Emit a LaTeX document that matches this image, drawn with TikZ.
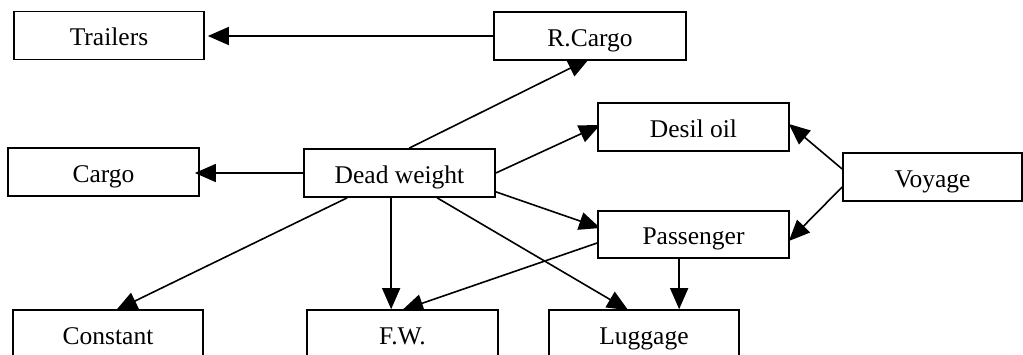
\documentclass[tikz,border=0pt]{standalone}
\usepackage{fontspec}
\setmainfont{Liberation Serif}
\usetikzlibrary{arrows.meta,calc}
\pgfdeclarelayer{background}
\pgfsetlayers{background,main}

\begin{document}
\begin{tikzpicture}[x=1pt,y=-1pt,
  box/.style={draw, fill=white, line width=1.7pt, minimum height=48pt,
    inner sep=0pt, text height=22pt, text depth=2pt,
    font=\fontsize{25.5}{30}\selectfont},
  link/.style={line width=1.6pt, -{Triangle[length=21pt,width=18pt]}}]

\useasboundingbox (0,0) rectangle (1023,354);

% boxes
\node[box, minimum width=190pt] (tr) at (109,35.5) {Trailers};
\node[box, minimum width=192pt] (rc) at (590,36) {R.Cargo};
\node[box, minimum width=191pt] (cg) at (103.5,172) {Cargo};
\node[box, minimum width=191pt] (dw) at (399.5,173) {Dead weight};
\node[box, minimum width=191pt] (ds) at (693.5,127) {Desil oil};
\node[box, minimum width=179pt] (vy) at (932.5,177) {Voyage};
\node[box, minimum width=191pt, minimum height=47pt] (ps) at (693.5,234.5) {Passenger};
\node[box, minimum width=190pt] (ct) at (108,334) {Constant};
\node[box, minimum width=191pt] (fw) at (402.5,334) {F.W.};
\node[box, minimum width=190pt] (lg) at (644,334) {Luggage};

% connectors, drawn behind the boxes
\begin{pgfonlayer}{background}
\draw[link] (rc.west) -- ($(rc.west -| tr.east)+(3,0)$);
\draw[link] ($(dw.north west)+(106,0)$) -- ($(rc.south west)+(96,-2)$);
\draw[link] (dw.east) -- ($(ds.west)+(3,-2)$);
\draw[link] ($(dw.south east)+(0,-6)$) -- ($(ps.west)+(3,-6.5)$);
\draw[link] ($(vy.west)+(0,-8)$) -- ($(ds.east)+(-1,-3)$);
\draw[link] ($(vy.west)+(0,10)$) -- ($(ps.east)+(-1,6.5)$);
\draw[link] ($(dw.south west)+(44,0)$) -- ($(ct.north west)+(104,1)$);
\draw[link] ($(dw.south west)+(88,0)$) -- ($(fw.north west)+(85,0)$);
\draw[link] ($(ps.west)+(0,8.5)$) -- ($(fw.north west)+(96,1)$);
\draw[link] ($(dw.south west)+(134,0)$) -- ($(lg.north west)+(80,1)$);
\draw[link] ($(ps.south west)+(82,0)$) -- ($(lg.north west)+(131,0)$);
\end{pgfonlayer}

\draw[link] (dw.west) -- ($(dw.west -| cg.east)+(-5,0)$);
\end{tikzpicture}
\end{document}
